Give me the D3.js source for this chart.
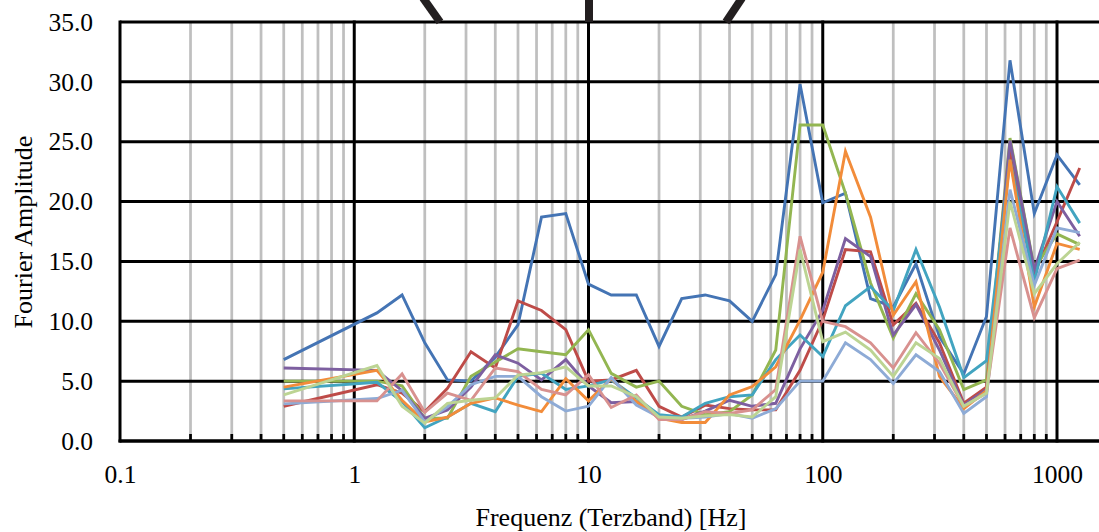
<!DOCTYPE html>
<html>
<head>
<meta charset="utf-8">
<script src="https://cdn.jsdelivr.net/npm/d3@7"></script>
<style>
  body { margin: 0; background: #fff; }
  svg { display: block; }
  text { font-family: "Liberation Serif", "Times New Roman", serif; fill: #000; }
</style>
</head>
<body>
<div id="SVGContainer"></div>
<script>

// terzband frequencies [Hz]
const freqs = [0.5, 1.25, 1.6, 2, 2.5, 3.15, 4, 5, 6.3, 8, 10, 12.5, 16, 20, 25, 31.5,
  40, 50, 63, 80, 100, 125, 160, 200, 250, 315, 400, 500, 630, 800, 1000, 1250];

// fourier amplitudes, one array per measurement
const series1 = [6.8, 10.7, 12.2, 8.2, 5.1, 5.0, 7.0, 9.7, 18.7, 19.0, 13.1, 12.2, 12.2, 7.9, 11.9, 12.2,
  11.7, 10.0, 13.9, 29.8, 19.9, 20.7, 11.9, 11.2, 14.8, 8.7, 5.6, 10.4, 31.8, 19.0, 23.9, 21.4];
const series2 = [2.9, 4.7, 4.0, 2.45, 4.4, 7.45, 6.1, 11.7, 10.9, 9.3, 5.0, 5.1, 5.9, 2.9, 2.0, 3.0,
  2.7, 2.6, 2.6, 5.9, 10.1, 16.0, 15.8, 9.7, 11.5, 8.2, 3.15, 4.5, 24.3, 14.0, 18.3, 22.8];
const series3 = [5.0, 5.0, 4.6, 1.9, 1.9, 5.4, 6.6, 7.7, 7.45, 7.2, 9.3, 5.65, 4.5, 5.0, 2.9, 2.2,
  2.45, 3.85, 7.6, 26.4, 26.4, 20.7, 13.2, 8.6, 12.3, 9.3, 4.3, 5.1, 25.3, 14.4, 17.3, 16.4];
const series4 = [6.1, 5.9, 4.2, 1.9, 2.6, 4.5, 7.2, 6.5, 5.1, 6.8, 4.6, 3.2, 3.3, 2.0, 1.8, 2.5,
  3.4, 2.9, 3.15, 7.7, 10.9, 16.9, 15.4, 8.85, 11.4, 7.6, 3.0, 4.3, 25.1, 14.3, 20.0, 17.1];
const series5 = [4.35, 4.9, 3.3, 1.1, 2.0, 3.15, 2.45, 5.4, 5.65, 4.3, 4.6, 5.1, 3.6, 2.2, 2.0, 3.15,
  3.7, 3.85, 6.8, 8.85, 7.05, 11.3, 12.9, 10.9, 16.0, 11.2, 5.3, 6.7, 23.5, 13.3, 21.25, 18.2];
const series6 = [4.5, 5.9, 3.4, 1.6, 2.0, 3.15, 3.6, 3.0, 2.45, 5.2, 3.35, 5.2, 3.3, 1.9, 1.55, 1.55,
  3.85, 4.55, 6.2, 10.1, 14.1, 24.2, 18.7, 10.5, 13.3, 5.4, 2.7, 4.2, 23.5, 11.2, 16.5, 16.0];
const series7 = [3.1, 3.55, 4.25, 1.6, 2.85, 4.7, 5.4, 5.4, 3.7, 2.5, 2.9, 5.3, 3.0, 2.0, 1.9, 2.0,
  2.3, 1.9, 2.7, 5.0, 5.0, 8.2, 6.8, 4.8, 7.2, 5.8, 2.3, 3.7, 21.0, 13.0, 17.8, 17.4];
const series8 = [3.35, 3.35, 5.6, 2.4, 4.0, 3.4, 6.1, 5.8, 4.3, 3.85, 5.55, 2.8, 3.85, 1.8, 1.8, 2.45,
  2.3, 2.6, 4.3, 17.1, 10.0, 9.55, 8.2, 6.1, 9.05, 6.5, 2.9, 4.0, 17.8, 10.3, 14.4, 15.1];
const series9 = [3.85, 6.3, 2.9, 1.5, 3.15, 3.4, 3.6, 5.5, 5.7, 6.2, 4.6, 4.6, 3.7, 2.0, 1.9, 2.1,
  2.2, 2.0, 3.7, 16.0, 8.3, 9.1, 7.6, 5.4, 8.2, 6.9, 2.9, 4.0, 20.0, 12.3, 14.8, 16.6];

const allSeries = [series1, series2, series3, series4, series5, series6, series7, series8, series9];
const colors = ['#4474B4', '#BE4B48', '#93B651', '#7D5FA0', '#42A4C0', '#F28C3A', '#8EABD6', '#D8918F', '#BCD493'];

// axis ticks
const yTicks = [0, 5, 10, 15, 20, 25, 30, 35];
const xMajor = [0.1, 1, 10, 100, 1000];
const xLabels = ['0.1', '1', '10', '100', '1000'];

const svg = d3.select('#SVGContainer')
  .append('svg')
  .attr('width', 1099)
  .attr('height', 532);

// log axis, cropped at the right edge of the picture
const x = d3.scaleLog().domain([0.1, 10000]).range([120, 1291.25]);
const y = d3.scaleLinear().domain([0, 35]).range([441, 22]);

const xMinor = x.ticks().filter(d => xMajor.indexOf(d) < 0 && d > 0.1);

const grid = svg.append('g');

// minor vertical grid (grey)
grid.selectAll('line.minor').data(xMinor)
  .enter()
  .append('line')
    .attr('x1', d => x(d)).attr('x2', d => x(d))
    .attr('y1', y(35)).attr('y2', y(0))
    .attr('stroke', '#BFBFBF')
    .attr('stroke-width', 2.75);

// horizontal grid (black)
grid.selectAll('line.hgrid').data(yTicks)
  .enter()
  .append('line')
    .attr('x1', x(0.1)).attr('x2', 1099)
    .attr('y1', d => y(d)).attr('y2', d => y(d))
    .attr('stroke', '#000')
    .attr('stroke-width', 3);

// major vertical grid (black)
grid.selectAll('line.major').data(xMajor)
  .enter()
  .append('line')
    .attr('x1', d => x(d)).attr('x2', d => x(d))
    .attr('y1', y(35) - 1.5).attr('y2', y(0) + 1.5)
    .attr('stroke', '#000')
    .attr('stroke-width', 3);

// lines
const line = d3.line()
  .x((d, i) => x(freqs[i]))
  .y(d => y(d));

svg.append('g').selectAll('path.series').data(allSeries)
  .enter()
  .append('path')
    .attr('d', d => line(d))
    .attr('fill', 'none')
    .attr('stroke', (d, i) => colors[i])
    .attr('stroke-width', 2.9)
    .attr('stroke-linejoin', 'miter');

// small black ticks on the bottom axis
svg.append('g').selectAll('line').data(xMinor)
  .enter()
  .append('line')
    .attr('x1', d => x(d)).attr('x2', d => x(d))
    .attr('y1', y(0) - 7).attr('y2', y(0))
    .attr('stroke', '#000')
    .attr('stroke-width', 2.75);

svg.append('line')
  .attr('x1', x(0.1) - 1.5).attr('x2', 1099)
  .attr('y1', y(0)).attr('y2', y(0))
  .attr('stroke', '#000')
  .attr('stroke-width', 3);

// tick labels
const yAxis = svg.append('g')
  .attr('transform', 'translate(' + x(0.1) + ',0)')
  .call(d3.axisLeft(y).tickValues(yTicks).tickFormat(d3.format('.1f')).tickSize(0).tickPadding(27));

const xAxis = svg.append('g')
  .attr('transform', 'translate(0,' + y(0) + ')')
  .call(d3.axisBottom(x).tickValues(xMajor).tickFormat((d, i) => xLabels[i]).tickSize(0).tickPadding(24));

[yAxis, xAxis].forEach(a => {
  a.select('.domain').remove();
  a.attr('font-family', null);
  a.selectAll('text')
    .style('font-family', '"Liberation Serif", "Times New Roman", serif')
    .style('font-size', '25.5px')
    .attr('fill', '#000');
});

// axis titles
svg.append('text')
  .attr('x', 611).attr('y', 526)
  .attr('text-anchor', 'middle')
  .style('font-size', '26px')
  .text('Frequenz (Terzband) [Hz]');

svg.append('text')
  .attr('transform', 'translate(32,232) rotate(-90)')
  .attr('text-anchor', 'middle')
  .style('font-size', '26px')
  .text('Fourier Amplitude');

// black strokes cut off at the top of the picture
const strokes = [[[423, -2], [440, 22]], [[589, -2], [589, 22]], [[742, -2], [726, 22]]];
svg.append('g').selectAll('line').data(strokes)
  .enter()
  .append('line')
    .attr('x1', d => d[0][0]).attr('y1', d => d[0][1])
    .attr('x2', d => d[1][0]).attr('y2', d => d[1][1])
    .attr('stroke', '#231F20')
    .attr('stroke-width', 8);

</script>
</body>
</html>
